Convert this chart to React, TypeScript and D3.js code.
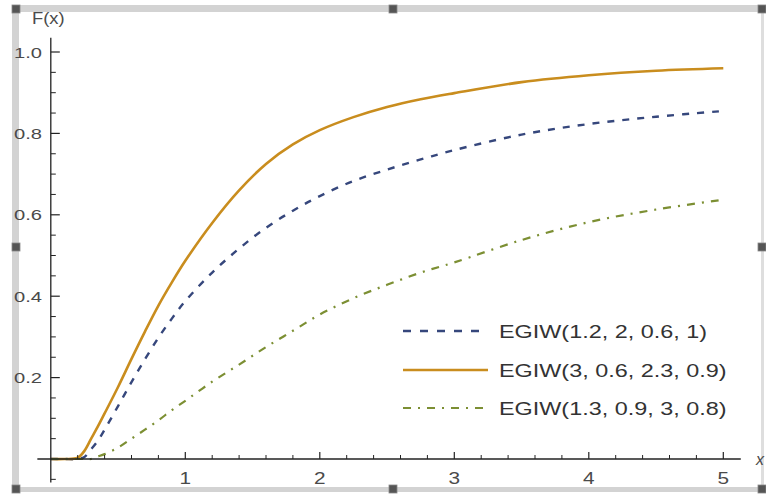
import React from "react";
import * as d3 from "d3";

const xValues = [0, 0.1, 0.2, 0.25, 0.3, 0.35, 0.4, 0.5, 0.6, 0.7, 0.8, 0.9, 1.0, 1.2, 1.4, 1.6, 1.8, 2.0, 2.25, 2.5, 2.75, 3.0, 3.5, 4.0, 4.5, 5.0];
const seriesBlue = [0, 0, 0, 0.005, 0.024, 0.045, 0.072, 0.13, 0.189, 0.245, 0.298, 0.345, 0.388, 0.458, 0.517, 0.568, 0.61, 0.646, 0.683, 0.711, 0.736, 0.759, 0.797, 0.823, 0.841, 0.855];
const seriesOrange = [0, 0, 0.003, 0.02, 0.05, 0.08, 0.112, 0.177, 0.246, 0.313, 0.377, 0.434, 0.487, 0.58, 0.66, 0.725, 0.773, 0.808, 0.84, 0.865, 0.884, 0.899, 0.926, 0.943, 0.954, 0.96];
const seriesGreen = [0, 0, 0, 0, 0, 0.006, 0.012, 0.028, 0.05, 0.072, 0.095, 0.12, 0.143, 0.19, 0.232, 0.275, 0.315, 0.355, 0.395, 0.428, 0.458, 0.483, 0.538, 0.582, 0.613, 0.637];
const legendLabels = ["EGIW(1.2,  2,  0.6,  1)", "EGIW(3,  0.6,  2.3,  0.9)", "EGIW(1.3,  0.9,  3,  0.8)"];
const xTickLabels = ["1", "2", "3", "4", "5"];
const yTickLabels = ["0.2", "0.4", "0.6", "0.8", "1.0"];

const W = 766;
const H = 495;

const styles = [
  { color: "#36477c", width: 2.4, dash: "7,8" },
  { color: "#c98d1e", width: 2.6, dash: "" },
  { color: "#7c8f33", width: 2.2, dash: "8,7,2,7" },
];

export default function App() {
  const x = d3.scaleLinear().domain([0, 5]).range([50.8, 723.3]);
  const y = d3.scaleLinear().domain([0, 1]).range([459, 52]);
  const series = [seriesBlue, seriesOrange, seriesGreen];
  const line = d3
    .line<number>()
    .x((_, i) => x(xValues[i]))
    .y((d) => y(d))
    .curve(d3.curveCatmullRom.alpha(0.5));

  const xMinor = d3.range(1, 26).map((k) => k * 0.2).filter((v) => Math.abs(v - Math.round(v)) > 1e-6);
  const yMinor = d3.range(-1, 21).map((k) => k * 0.05).filter((v) => Math.abs(v * 5 - Math.round(v * 5)) > 1e-6);
  const xMajor = xTickLabels.map(Number);
  const yMajor = yTickLabels.map(Number);

  const axisColor = "#222";
  const labelColor = "#4a4a4a";
  const font = "'Liberation Sans', Arial, sans-serif";
  const sx = 1.3;

  const handles = [
    [16, 9], [393, 9], [762, 9],
    [16, 247], [762, 247],
    [16, 489], [393, 489], [762, 489],
  ];

  const legendY = [331, 370, 408];

  return (
    <svg width={W} height={H} style={{ position: "absolute", left: 0, top: 0, background: "#fff" }} fontFamily={font}>
      <rect x={0} y={0} width={W} height={H} fill="#fff" />
      {/* frame */}
      <rect x={12} y={5} width={752} height={7} fill="#d3d3d3" />
      <rect x={12} y={5} width={7} height={488} fill="#d3d3d3" />
      <rect x={12} y={487} width={752} height={5} fill="#d3d3d3" />
      <rect x={761} y={5} width={3} height={488} fill="#dedede" />
      {handles.map(([hx, hy], i) => (
        <rect key={i} x={hx - 4} y={hy - 4} width={8} height={8} fill="#555" stroke="#888" strokeWidth={0.8} />
      ))}

      {/* curves */}
      {series.map((s, i) => (
        <path
          key={i}
          d={line(s) || ""}
          fill="none"
          stroke={styles[i].color}
          strokeWidth={styles[i].width}
          strokeDasharray={styles[i].dash || undefined}
          strokeLinecap="butt"
        />
      ))}

      {/* axes */}
      <line x1={x(-0.1)} x2={x(5.13)} y1={y(0)} y2={y(0)} stroke={axisColor} strokeWidth={1.3} />
      <line x1={x(0)} x2={x(0)} y1={y(-0.058)} y2={y(1.035)} stroke={axisColor} strokeWidth={1.3} />
      {xMajor.map((v) => (
        <line key={"xM" + v} x1={x(v)} x2={x(v)} y1={y(0)} y2={y(0) - 7} stroke={axisColor} strokeWidth={1.2} />
      ))}
      {xMinor.map((v) => (
        <line key={"xm" + v} x1={x(v)} x2={x(v)} y1={y(0)} y2={y(0) - 4} stroke={axisColor} strokeWidth={1} />
      ))}
      {yMajor.map((v) => (
        <line key={"yM" + v} x1={x(0)} x2={x(0) + 9} y1={y(v)} y2={y(v)} stroke={axisColor} strokeWidth={1.2} />
      ))}
      {yMinor.map((v) => (
        <line key={"ym" + v} x1={x(0)} x2={x(0) + 5} y1={y(v)} y2={y(v)} stroke={axisColor} strokeWidth={1} />
      ))}

      {/* tick labels */}
      {xTickLabels.map((t, i) => (
        <text key={"xl" + t} transform={`translate(${x(xMajor[i])},${484}) scale(${sx},1)`} textAnchor="middle" fontSize={16} fill={labelColor}>
          {t}
        </text>
      ))}
      {yTickLabels.map((t, i) => (
        <text key={"yl" + t} transform={`translate(${42},${y(yMajor[i]) + 5.5}) scale(${sx},1)`} textAnchor="end" fontSize={15.5} fill={labelColor}>
          {t}
        </text>
      ))}
      <text transform={`translate(${32},${24}) scale(1.15,1)`} fontSize={16} fill={labelColor}>
        F(x)
      </text>
      <text x={756} y={465} fontSize={16} fontStyle="italic" fill={labelColor}>
        x
      </text>

      {/* legend */}
      {legendLabels.map((t, i) => (
        <g key={"lg" + i}>
          <line
            x1={403}
            x2={488}
            y1={legendY[i]}
            y2={legendY[i]}
            stroke={styles[i].color}
            strokeWidth={styles[i].width}
            strokeDasharray={styles[i].dash ? (i === 0 ? "8,9" : "8,7,2,7") : undefined}
          />
          <text transform={`translate(${499},${legendY[i] + 6.5}) scale(1.3,1)`} fontSize={18} fill="#333">
            {t}
          </text>
        </g>
      ))}
    </svg>
  );
}
